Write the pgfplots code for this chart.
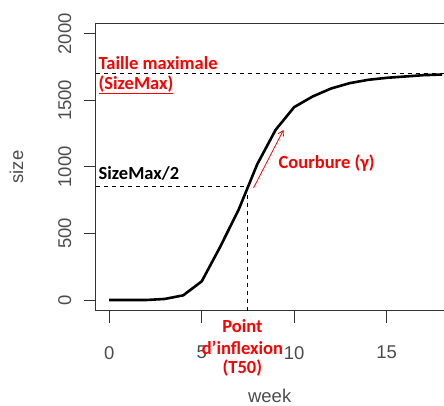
\documentclass[border=0pt]{standalone}
\usepackage{pgfplots}
\pgfplotsset{compat=1.18}
\usetikzlibrary{arrows.meta}
\usepackage{fontspec}
\setmainfont{Liberation Sans}
\newfontfamily\calib{Carlito}
\definecolor{tickgray}{gray}{0.3}
\definecolor{annred}{RGB}{255,0,0}
\begin{document}
\begin{tikzpicture}
\begin{axis}[
  scale only axis,
  width=348bp, height=287.7bp,
  xmin=-0.72, xmax=18.07,
  ymin=-80, ymax=2080,
  axis x line=box, axis y line=left,
  xtick={0,5,10,15}, ytick={0,500,1000,1500,2000},
  tick align=outside,
  major tick length=12bp,
  xtick pos=bottom, ytick pos=left,
  axis line style={black!80, line width=1bp, -},
  every tick/.style={black!80, line width=1bp},
  ticklabel style={font=\fontsize{18.5bp}{20bp}\selectfont, text=tickgray},
  /pgf/number format/assume math mode=true,
  /pgf/number format/1000 sep={},
  scaled ticks=false,
  yticklabel style={xshift=-9bp, rotate=90, anchor=south},
  xticklabel style={yshift=-20bp, anchor=north},
  xlabel={week}, ylabel={size},
  label style={font=\fontsize{18.5bp}{20bp}\selectfont, text=tickgray},
  xlabel style={at={(axis description cs:0.5,-0.2955)}, anchor=center},
  ylabel style={at={(axis description cs:-0.228,0.5)}, anchor=center, rotate=0},
  clip=false,
]
% asymptote and half-size guides
\addplot[black, line width=1bp, dash pattern=on 4bp off 4bp] coordinates {(-0.72,1700) (18.07,1700)};
\addplot[black, line width=1bp, dash pattern=on 4bp off 4bp] coordinates {(-0.72,850) (7.5,850)};
\addplot[black, line width=1bp, dash pattern=on 4bp off 4bp] coordinates {(7.5,-80) (7.5,850)};
% growth curve
\addplot[black, line width=2.6bp, line join=round] coordinates {
(0,0) (1,0) (2,0) (3,8) (4,35) (5,140) (6,400) (7,680) (8,1020) (9,1280)
(10,1450) (11,1530) (12,1590) (13,1630) (14,1655) (15,1670) (16,1680) (17,1690) (18,1695)};
% curvature arrow
\addplot[annred, line width=0.8bp, -{Straight Barb[length=5bp,width=6bp]}] coordinates {(7.8,842) (9.42,1278)};
% annotations
\node[anchor=west, inner sep=0pt, text=annred, font=\fontsize{18.5bp}{20bp}\selectfont\calib\bfseries] at (axis cs:-0.58,1782) {Taille maximale};
\node[anchor=west, inner sep=0pt, text=annred, font=\fontsize{18.5bp}{20bp}\selectfont\calib\bfseries] at (axis cs:-0.58,1617) {\underline{(SizeMax)}};
\node[anchor=west, inner sep=0pt, text=black, font=\fontsize{18.5bp}{20bp}\selectfont\calib\bfseries] at (axis cs:-0.58,955) {SizeMax/2};
\node[anchor=west, inner sep=0pt, text=annred, font=\fontsize{18.5bp}{20bp}\selectfont\calib\bfseries] at (axis cs:9.15,1030) {Courbure (γ)};
\node[anchor=center, inner sep=0pt, text=annred, font=\fontsize{18.5bp}{20bp}\selectfont\calib\bfseries] at (axis cs:7.2,-195) {Point};
\node[anchor=center, inner sep=0pt, text=annred, font=\fontsize{18.5bp}{20bp}\selectfont\calib\bfseries] at (axis cs:7.2,-361) {d’inflexion};
\node[anchor=center, inner sep=0pt, text=annred, font=\fontsize{18.5bp}{20bp}\selectfont\calib\bfseries] at (axis cs:7.2,-511) {(T50)};
% frame of the picture
\path ([xshift=-96bp, yshift=-95bp]rel axis cs:0,0) -- ([yshift=23.3bp]rel axis cs:1,1);
\end{axis}
\end{tikzpicture}
\end{document}
